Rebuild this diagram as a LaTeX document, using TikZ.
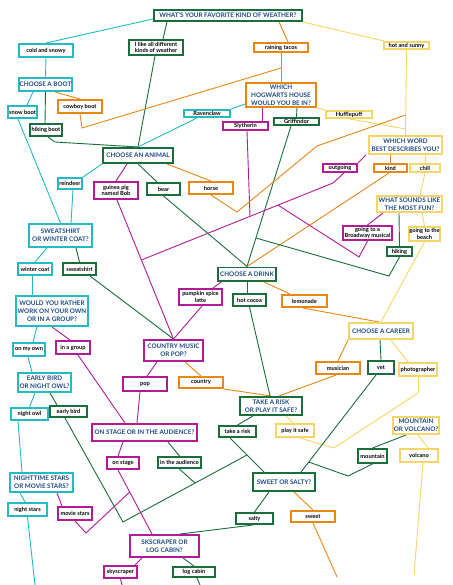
\documentclass[tikz,border=0pt]{standalone}
\usepackage{fontspec}
\setmainfont{Lato}
\definecolor{cyanc}{RGB}{34,187,196}
\definecolor{greenc}{RGB}{25,110,60}
\definecolor{orangec}{RGB}{232,135,20}
\definecolor{magc}{RGB}{178,26,150}
\definecolor{yelc}{RGB}{247,213,100}
\definecolor{qblue}{RGB}{28,72,130}
\pgfdeclarelayer{bg}
\pgfsetlayers{bg,main}
\tikzset{
  box/.style={draw, line width=1.8pt, fill=white, inner sep=0.5pt, align=center},
  a/.style={box, font=\fontsize{5.7}{6.6}\selectfont\bfseries, text=black},
  q/.style={box, font=\fontsize{6.3}{7.9}\selectfont\bfseries, text=qblue},
  sz/.style 2 args={minimum width={#1pt-1.8pt}, minimum height={#2pt-1.8pt}},
  bcy/.style={draw=cyanc}, bgr/.style={draw=greenc}, bor/.style={draw=orangec},
  bmg/.style={draw=magc}, bye/.style={draw=yelc},
  ln/.style={line width=0.9pt},
  lcy/.style={ln, draw=cyanc}, lgr/.style={ln, draw=greenc}, lor/.style={ln, draw=orangec},
  lmg/.style={ln, draw=magc}, lye/.style={ln, draw=yelc}
}
\begin{document}
\begin{tikzpicture}[x=1pt,y=-1pt]
\useasboundingbox (0,0) rectangle (452,585);
% nodes
\node[q,bgr,sz={150}{13}] (T) at (228,15.5) {WHAT'S YOUR FAVORITE KIND OF WEATHER?};
\node[a,bcy,sz={56}{15}] (cold) at (46,50.5) {cold and snowy};
\node[a,bgr,sz={56}{17}] (ilike) at (156,47.5) {I like all different\\kinds of weather};
\node[q,bcy,sz={55}{15}] (boot) at (45.5,84.5) {CHOOSE A BOOT};
\node[a,bor,sz={46}{15}] (cowboy) at (80,106.5) {cowboy boot};
\node[a,bcy,sz={31}{14}] (snow) at (22.5,112) {snow boot};
\node[a,bgr,sz={34}{14}] (hboot) at (46,130) {hiking boot};
\node[a,bor,sz={56}{11}] (tacos) at (281,47.5) {raining tacos};
\node[a,bye,sz={47}{9}] (sunny) at (406.5,45.5) {hot and sunny};
\node[q,bor,sz={72}{26}] (hog) at (281,95) {WHICH\\HOGWARTS HOUSE\\WOULD YOU BE IN?};
\node[a,bcy,sz={48}{9}] (raven) at (207,113.5) {Ravenclaw};
\node[a,bye,sz={48}{9}] (huff) at (349,114.5) {Hufflepuff};
\node[a,bmg,sz={47}{10}] (slyth) at (245.5,126) {Slytherin};
\node[a,bgr,sz={47}{9}] (griff) at (296.5,121.5) {Griffindor};
\node[q,bye,sz={75}{20}] (word) at (405.5,145) {WHICH WORD\\BEST DESCRIBES YOU?};
\node[q,bgr,sz={72}{17}] (animal) at (138,155.5) {CHOOSE AN ANIMAL};
\node[a,bmg,sz={36}{10}] (outgoing) at (340,168) {outgoing};
\node[a,bor,sz={35}{10}] (kind) at (390.5,168) {kind};
\node[a,bye,sz={32}{10}] (chill) at (425,168) {chill};
\node[a,bcy,sz={26}{13}] (reindeer) at (70,183.5) {reindeer};
\node[a,bmg,sz={46}{19}] (guinea) at (116,190.5) {guinea pig\\named Bob};
\node[a,bgr,sz={35}{14}] (bear) at (163.5,189) {bear};
\node[a,bor,sz={46}{14}] (horse) at (211,188) {horse};
\node[q,bye,sz={67}{18}] (fun) at (409.5,204) {WHAT SOUNDS LIKE\\THE MOST FUN?};
\node[a,bmg,sz={51}{16}] (broadway) at (367.5,233) {going to a\\Broadway musical};
\node[a,bye,sz={33}{16}] (beach) at (424.5,234) {going to the\\beach};
\node[a,bgr,sz={27}{11}] (hiking) at (399.5,251.5) {hiking};
\node[q,bcy,sz={65}{25}] (sweat) at (60.5,235.5) {SWEATSHIRT\\OR WINTER COAT?};
\node[a,bcy,sz={36}{14}] (wcoat) at (35,269) {winter coat};
\node[a,bgr,sz={35}{14}] (sshirt) at (79.5,269) {sweatshirt};
\node[q,bgr,sz={60}{15}] (drink) at (247,274) {CHOOSE A DRINK};
\node[a,bmg,sz={45}{18}] (pumpkin) at (200.5,297) {pumpkin spice\\latte};
\node[a,bgr,sz={35}{14}] (cocoa) at (249.5,300) {hot cocoa};
\node[a,bor,sz={47}{14}] (lemon) at (304.5,301) {lemonade};
\node[q,bcy,sz={74}{32}] (rather) at (52,311) {WOULD YOU RATHER\\WORK ON YOUR OWN\\OR IN A GROUP?};
\node[a,bcy,sz={34}{15}] (myown) at (29,349.5) {on my own};
\node[a,bmg,sz={36}{15}] (group) at (73,347.5) {in a group};
\node[q,bmg,sz={61}{23}] (country) at (173.5,350.5) {COUNTRY MUSIC\\OR POP?};
\node[q,bye,sz={66}{18}] (career) at (381,331) {CHOOSE A CAREER};
\node[a,bor,sz={46}{14}] (musician) at (338,368) {musician};
\node[a,bgr,sz={28}{15}] (vet) at (381,367.5) {vet};
\node[a,bye,sz={40}{15}] (photo) at (418,369.5) {photographer};
\node[q,bcy,sz={55}{21}] (early) at (44.5,382.5) {EARLY BIRD\\OR NIGHT OWL?};
\node[a,bmg,sz={46}{16}] (pop) at (145,384) {pop};
\node[a,bor,sz={46}{13}] (countryA) at (201,382.5) {country};
\node[q,bgr,sz={64}{20}] (risk) at (271,406) {TAKE A RISK\\OR PLAY IT SAFE?};
\node[a,bcy,sz={39}{14}] (nowl) at (29.5,414) {night owl};
\node[a,bgr,sz={39}{13}] (ebird) at (68.5,411.5) {early bird};
\node[q,bye,sz={48}{19}] (mv) at (416,425.5) {MOUNTAIN\\OR VOLCANO?};
\node[q,bmg,sz={107}{19}] (stage) at (144.5,432.5) {ON STAGE OR IN THE AUDIENCE?};
\node[a,bgr,sz={39}{13}] (trisk) at (237.5,431.5) {take a risk};
\node[a,bye,sz={40}{15}] (safe) at (295,430.5) {play it safe};
\node[a,bgr,sz={31}{16}] (mountain) at (372.5,456) {mountain};
\node[a,bye,sz={40}{15}] (volcano) at (419,455.5) {volcano};
\node[a,bmg,sz={34}{14}] (onstage) at (123,463) {on stage};
\node[a,bgr,sz={45}{13}] (aud) at (179.5,462.5) {in the audience};
\node[q,bgr,sz={64}{20}] (sweetq) at (284,482) {SWEET OR SALTY?};
\node[q,bcy,sz={65}{21}] (nstars) at (41.5,482.5) {NIGHTTIME STARS\\OR MOVIE STARS?};
\node[a,bcy,sz={41}{15}] (nightstars) at (27.5,509.5) {night stars};
\node[a,bmg,sz={36}{15}] (movie) at (75,513.5) {movie stars};
\node[a,bgr,sz={39}{13}] (salty) at (254.5,518.5) {salty};
\node[a,bor,sz={46}{13}] (sweet) at (313,516.5) {sweet};
\node[q,bmg,sz={71}{24}] (sky) at (164.5,546) {SKSCRAPER OR\\LOG CABIN?};
\node[a,bmg,sz={35}{14}] (skyscraper) at (120.5,572) {skyscraper};
\node[a,bgr,sz={44}{12}] (logcabin) at (194,572) {log cabin};
% joints and free ends
\coordinate (k1) at (82,128); \coordinate (j1) at (281,68);
\coordinate (k2) at (55,142);
\coordinate (j2) at (405.6,129); \coordinate (j7) at (405.8,115);
\coordinate (k3) at (333,183); \coordinate (j3) at (250,216.3);
\coordinate (j5) at (278,205.1); \coordinate (j4) at (141.4,260);
\coordinate (k4) at (359,257); \coordinate (k5) at (389,276);
\coordinate (j6) at (255.9,238);
\coordinate (k6) at (237,212); \coordinate (k7) at (317,146);
\coordinate (k8) at (334,448); \coordinate (j8) at (418,393);
\coordinate (k9) at (123,522); \coordinate (j9) at (247,455);
\coordinate (j10) at (195,483.1);
\coordinate (k10) at (348,476); \coordinate (j11) at (308.7,462);
\coordinate (j12) at (129.7,492); \coordinate (k11) at (86,533);
\coordinate (e1) at (35,585); \coordinate (e2) at (122,585);
\coordinate (e3) at (200,585); \coordinate (e4) at (337,577);
\coordinate (e5) at (414,575);
\begin{pgfonlayer}{bg}
\fill[white] (0,0) rectangle (452,585);
\draw[lcy] ([yshift=-3.5pt]T.west) -- (cold.north);
\draw[lgr] ([xshift=-61pt]T.south) -- ([xshift=7pt]ilike.north);
\draw[lgr] ([xshift=-1pt]ilike.south) -- (animal.north);
\draw[lor] ([xshift=51pt]T.south) -- ([xshift=7pt]tacos.north);
\draw[lye] (T.south east) -- ([xshift=-22.5pt]sunny.north);
\draw[lcy] (cold.south) -- (boot.north);
\draw[lcy] ([xshift=-12.5pt]boot.south) -- ([xshift=4.5pt]snow.north);
\draw[lgr] (boot.south) -- ([xshift=-1pt]hboot.north);
\draw[lor] ([xshift=9.5pt]boot.south) -- (cowboy.north);
\draw[lor] (cowboy.south) -- (k1) -- (j1);
\draw[lor] (tacos.south) -- (hog.north);
\draw[lcy] ([xshift=-4.5pt]snow.south) -- (sweat.north);
\draw[lgr] ([xshift=2pt]hboot.south) -- (k2) -- (animal.north);
\draw[lcy] ([yshift=-9pt]hog.west) -- (raven.north east);
\draw[lcy] ([xshift=-10pt]raven.south) -- (animal.north);
\draw[lmg] ([xshift=-19pt]hog.south) -- ([xshift=16.5pt]slyth.north);
\draw[lgr] ([xshift=16pt]hog.south) -- (griff.north);
\draw[lye] (hog.south east) -- (huff.north west);
\draw[lye] (sunny.south) -- (word.north);
\draw[lye] ([xshift=1pt]huff.south) -- (j2);
\draw[lmg] ([xshift=1.5pt]slyth.south) -- (j3);
\draw[lgr] ([xshift=-5.5pt]griff.south) -- (drink.north);
\draw[lmg] ([xshift=-39.5pt]word.south) -- (outgoing.north east);
\draw[lor] ([xshift=-15pt]word.south) -- (kind.north);
\draw[lye] ([xshift=20.5pt]word.south) -- (chill.north);
\draw[lmg] ([xshift=4pt]outgoing.south) -- (k3) -- (j4);
\draw[lmg] ([xshift=1pt]guinea.south) -- (country.north);
\draw[lor] ([xshift=-1.5pt]kind.south) -- (drink.north);
\draw[lye] (chill.south) -- ([xshift=10.5pt]fun.north);
\draw[lye] ([xshift=12.5pt]fun.south) -- (beach.north);
\draw[lmg] ([xshift=-26.5pt]fun.south) -- (broadway.north);
\draw[lgr] ([xshift=-10.5pt]fun.south) -- (hiking.north);
\draw[lmg] (broadway.south) -- (k4) -- (j5);
\draw[lgr] (hiking.south) -- (k5) -- (j6);
\draw[lye] (beach.south) -- (career.north);
\draw[lcy] (animal.south west) -- (reindeer.north east);
\draw[lmg] ([xshift=-11pt]animal.south) -- (guinea.north);
\draw[lgr] (animal.south) -- ([xshift=-6.5pt]bear.north);
\draw[lor] ([xshift=29pt]animal.south) -- (horse.north);
\draw[lgr] (bear.south) -- (drink.north);
\draw[lor] (horse.south) -- (k6) -- (k7) -- (j7);
\draw[lcy] ([xshift=3pt]reindeer.south) -- ([xshift=10.5pt]sweat.north);
\draw[lcy] ([xshift=-13.5pt]sweat.south) -- (wcoat.north);
\draw[lgr] ([xshift=15.5pt]sweat.south) -- (sshirt.north);
\draw[lgr] ([xshift=10.5pt]sshirt.south) -- (country.north);
\draw[lcy] ([xshift=-3pt]wcoat.south) -- ([xshift=-20pt]rather.north);
\draw[lmg] ([xshift=-25pt]drink.south) -- ([xshift=12.5pt]pumpkin.north);
\draw[lgr] (drink.south) -- ([xshift=-2.5pt]cocoa.north);
\draw[lor] ([xshift=16pt]drink.south) -- ([xshift=-14.5pt]lemon.north);
\draw[lmg] ([xshift=1.5pt]pumpkin.south) -- (country.north);
\draw[lor] ([xshift=-1.5pt]lemon.south) -- ([xshift=-2pt]career.north);
\draw[lcy] ([xshift=-15pt]rather.south) -- ([xshift=4pt]myown.north);
\draw[lmg] (rather.south) -- ([xshift=-3pt]group.north);
\draw[lmg] ([xshift=5pt]group.south) -- ([xshift=-19.5pt]stage.north);
\draw[lcy] ([xshift=-1pt]myown.south) -- ([xshift=-12.5pt]early.north);
\draw[lmg] ([xshift=-16.5pt]country.south) -- ([xshift=2pt]pop.north);
\draw[lor] ([xshift=11.5pt]country.south) -- (countryA.north);
\draw[lye] ([xshift=10pt]career.south) -- ([xshift=-10pt]photo.north);
\draw[lgr] ([xshift=-1pt]career.south) -- (vet.north);
\draw[lor] (career.south west) -- (musician.north);
\draw[lcy] ([xshift=-9.5pt]early.south) -- (nowl.north);
\draw[lgr] ([xshift=5.5pt]early.south) -- ([xshift=-11.5pt]ebird.north);
\draw[lmg] ([xshift=-5pt]pop.south) -- ([xshift=-7.5pt]stage.north);
\draw[lor] (countryA.south east) -- (risk.north);
\draw[lgr] (cocoa.south) -- ([xshift=-1pt]risk.north);
\draw[lor] ([xshift=-2pt]musician.south) -- ([xshift=8pt]risk.north);
\draw[lgr] ([xshift=-18pt]risk.south) -- (trisk.north);
\draw[lye] ([xshift=15pt]risk.south) -- ([xshift=-2pt]safe.north);
\draw[lye] ([xshift=5pt]safe.south) -- (k8) -- (j8);
\draw[lye] (photo.south) -- (j8);
\draw[lmg] ([xshift=-21.5pt]stage.south) -- ([xshift=-5pt]onstage.north);
\draw[lgr] ([xshift=23.5pt]stage.south) -- (aud.north);
\draw[lgr] ([xshift=-3.5pt]ebird.south) -- (k9) -- (j9);
\draw[lgr] ([xshift=-7.5pt]trisk.south) -- ([xshift=-20pt]sweetq.north);
\draw[lgr] (aud.south) -- (j10);
\draw[lgr] ([xshift=-5pt]vet.south) -- ([xshift=17pt]sweetq.north);
\draw[lgr] ([xshift=-10pt]mv.south) -- (mountain.north);
\draw[lye] ([xshift=2pt]mv.south) -- ([xshift=9pt]volcano.north);
\draw[lgr] (mountain.south) -- (k10) -- (j11);
\draw[lgr] ([xshift=-15pt]sweetq.south) -- (salty.north);
\draw[lor] ([xshift=10pt]sweetq.south) -- (sweet.north);
\draw[lmg] ([xshift=-5pt]onstage.south) -- ([xshift=-12.5pt]sky.north);
\draw[lmg] (movie.south) -- (k11) -- (j12);
\draw[lcy] ([xshift=-21.5pt]nstars.south) -- ([xshift=-2.5pt]nightstars.north);
\draw[lmg] ([xshift=15.5pt]nstars.south) -- ([xshift=-13pt]movie.north);
\draw[lcy] ([xshift=-11.5pt]nowl.south) -- ([xshift=-19.5pt]nstars.north);
\draw[lcy] (nightstars.south) -- (e1);
\draw[lgr] ([xshift=-1.5pt]salty.south) -- ([xshift=15.5pt]sky.north);
\draw[lmg] ([xshift=-22.5pt]sky.south) -- ([xshift=14.5pt]skyscraper.north);
\draw[lgr] ([xshift=18.5pt]sky.south) -- (logcabin.north);
\draw[lmg] (skyscraper.south) -- (e2);
\draw[lgr] ([xshift=3pt]logcabin.south) -- (e3);
\draw[lor] (sweet.south) -- (e4);
\draw[lye] ([xshift=4pt]volcano.south) -- (e5);
\end{pgfonlayer}
\end{tikzpicture}
\end{document}
